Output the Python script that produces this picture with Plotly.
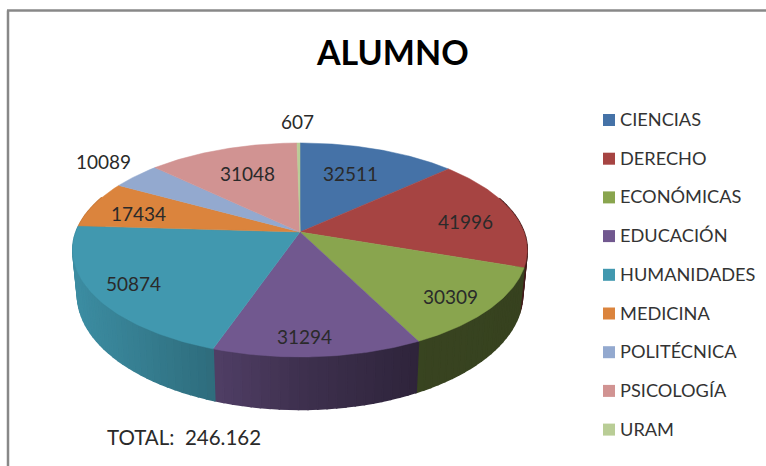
import numpy as np
import plotly.graph_objects as go

TITLE = "ALUMNO"
TOTAL_TEXT = "TOTAL:  246.162"
categories = ["CIENCIAS", "DERECHO", "ECONÓMICAS", "EDUCACIÓN", "HUMANIDADES",
              "MEDICINA", "POLITÉCNICA", "PSICOLOGÍA", "URAM"]
values = [32511, 41996, 30309, 31294, 50874, 17434, 10089, 31048, 607]
colors = ["#4572A7", "#A64442", "#89A54E", "#71588F", "#4198AF",
          "#DB843D", "#93A9CF", "#D19392", "#B9CD96"]

# label anchor points (canvas pixels), as hand-placed in the source chart
label_x = [350, 465, 450, 304, 133, 138, 103, 247, 297]
label_y = [173, 221, 296, 336, 283, 213, 161, 173, 121]

# projection of the tilted disc
CX, CY, A, B, K = 300, 232, 224, 104, 0.168
A2, B2, Y2 = 219.5, 112, 274.8


def top(t, r=1.0):
    X, Y = r * np.sin(t), r * np.cos(t)
    w = 1 + K * Y
    return CX + A * X / w, CY - B * Y / w


def bottom(t):
    X, Y = np.sin(t), np.cos(t)
    w = 1 + K * Y
    return CX + A2 * X / w, Y2 - B2 * Y / w


def shade(hex_color, f):
    r, g, b = [int(hex_color[i:i + 2], 16) for i in (1, 3, 5)]
    return f"rgb({r * f:.0f},{g * f:.0f},{b * f:.0f})"


fig = go.Figure()
edges = np.concatenate([[0], np.cumsum(values)]) / sum(values) * 2 * np.pi

# side wall
for i, c in enumerate(colors):
    a0, a1 = edges[i], edges[i + 1]
    n = max(1, int((a1 - a0) / 0.035))
    ts = np.linspace(a0, a1, n + 1)
    for t0, t1 in zip(ts[:-1], ts[1:]):
        if np.cos((t0 + t1) / 2) > 0.35:
            continue
        x0, y0 = top(t0)
        x1, y1 = top(t1)
        x2, y2 = bottom(t1)
        x3, y3 = bottom(t0)
        f = float(np.interp((x0 + x1) / 2, [77, 130, 213, 300, 417, 525],
                            [0.92, 0.84, 0.71, 0.55, 0.41, 0.40]))
        col = shade(c, f)
        fig.add_trace(go.Scatter(x=[x0, x1, x2, x3, x0], y=[y0, y1, y2, y3, y0],
                                 mode="lines", fill="toself", fillcolor=col,
                                 line=dict(color=col, width=1.6),
                                 hoverinfo="skip", showlegend=False))

# top face
for i, (name, c) in enumerate(zip(categories, colors)):
    ts = np.linspace(edges[i], edges[i + 1], 80)
    xs, ys = top(ts)
    fig.add_trace(go.Scatter(x=np.r_[CX, xs, CX], y=np.r_[CY, ys, CY],
                             mode="lines", fill="toself", fillcolor=c,
                             line=dict(color=c, width=0.5),
                             name=name, showlegend=False,
                             hovertemplate=f"{name}: {values[i]}<extra></extra>"))

# key: swatches and names
key_y = [120 + 38.7 * i for i in range(len(categories))]
fig.add_trace(go.Scatter(x=[609] * len(categories), y=key_y, mode="markers",
                         marker=dict(symbol="square", size=12, color=colors),
                         hoverinfo="skip", showlegend=False))

FONT = "Lato, Carlito, sans-serif"
ann = [dict(x=392, y=51, text=f"<b>{TITLE}</b>", showarrow=False,
            font=dict(family=FONT, size=34, color="#000000"))]
ann.append(dict(x=105, y=437, text=TOTAL_TEXT, showarrow=False, xanchor="left",
                font=dict(family=FONT, size=20.5, color="#2a2a2a")))
for v, lx, ly in zip(values, label_x, label_y):
    ann.append(dict(x=lx, y=ly, text=str(v), showarrow=False,
                    font=dict(family=FONT, size=19, color="#2a2a2a")))
for name, ky in zip(categories, key_y):
    ann.append(dict(x=618, y=ky - 1, text=name, showarrow=False, xanchor="left",
                    font=dict(family=FONT, size=18.2, color="#333333")))

shapes = [dict(type="line", x0=8, x1=8, y0=10.5, y1=466, line=dict(color="#888888", width=2.5)),
          dict(type="line", x0=7, x1=766, y0=10.5, y1=10.5, line=dict(color="#888888", width=2.5))]

fig.update_layout(width=766, height=466, margin=dict(l=0, r=0, t=0, b=0),
                  paper_bgcolor="white", plot_bgcolor="white",
                  xaxis=dict(range=[0, 766], visible=False, fixedrange=True),
                  yaxis=dict(range=[466, 0], visible=False, fixedrange=True),
                  annotations=ann, shapes=shapes, showlegend=False)
fig.write_html("out.html", config=dict(displayModeBar=False),
               post_script="document.body.style.margin='0';document.body.style.overflow='hidden';")
